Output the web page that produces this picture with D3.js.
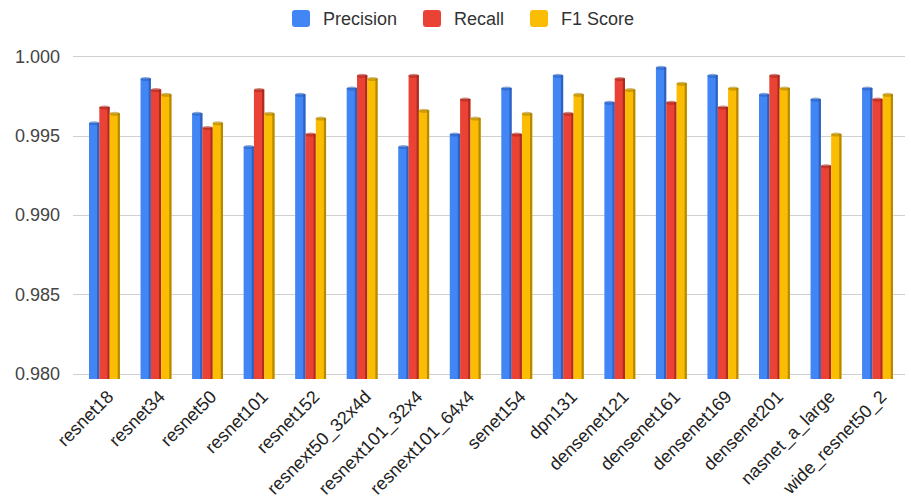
<!DOCTYPE html>
<html><head><meta charset="utf-8">
<script src="https://cdn.jsdelivr.net/npm/d3@7"></script>
<style>html,body{margin:0;padding:0;background:#fff;}svg{display:block;}</style>
</head><body>
<script>
const categories = ["resnet18","resnet34","resnet50","resnet101","resnet152","resnext50_32x4d","resnext101_32x4","resnext101_64x4","senet154","dpn131","densenet121","densenet161","densenet169","densenet201","nasnet_a_large","wide_resnet50_2"];
const seriesNames = ["Precision","Recall","F1 Score"];
const precision = [0.9959,0.9987,0.9965,0.9944,0.9977,0.9981,0.9944,0.9952,0.9981,0.9989,0.9972,0.9994,0.9989,0.9977,0.9974,0.9981];
const recall    = [0.9969,0.9980,0.9956,0.9980,0.9952,0.9989,0.9989,0.9974,0.9952,0.9965,0.9987,0.9972,0.9969,0.9989,0.9932,0.9974];
const f1score   = [0.9965,0.9977,0.9959,0.9965,0.9962,0.9987,0.9967,0.9962,0.9965,0.9977,0.9980,0.9984,0.9981,0.9981,0.9952,0.9977];
const yTicks = [0.980,0.985,0.990,0.995,1.000];
const colors = ["#4285F4","#EA4335","#FBBC04"];
const edgeColors = ["#2a5cb8","#a3271c","#a88000"];

const W = 911, H = 501;
const svg = d3.select("body").append("svg").attr("width",W).attr("height",H);

const y = d3.scaleLinear().domain([0.980,1.000]).range([373.5,56.3]);
const x = d3.scaleBand().domain(categories).range([78.7,903.3]).paddingInner(0.4).paddingOuter(0.2);
const xs = d3.scaleBand().domain(seriesNames).range([0,x.bandwidth()]);
const baseY = y(0.980) + 5.5;
const series = [precision, recall, f1score];

// gridlines
svg.append("g").selectAll("line").data(yTicks).join("line")
  .attr("x1",73).attr("x2",905)
  .attr("y1",d=>Math.round(y(d))+0.5).attr("y2",d=>Math.round(y(d))+0.5)
  .attr("stroke","#d0d0d0").attr("stroke-width",1);

// y labels
svg.append("g").selectAll("text").data(yTicks).join("text")
  .attr("x",60).attr("y",d=>y(d)+6.5)
  .attr("text-anchor","end")
  .attr("font-family","Liberation Sans, Arial, sans-serif")
  .attr("font-size",18).attr("fill","#444")
  .text(d=>d3.format(".3f")(d));

// bars
const g = svg.append("g");
series.forEach((vals, si) => {
  const name = seriesNames[si];
  const bw = xs.bandwidth();
  const grp = g.append("g");
  vals.forEach((v, ci) => {
    const x0 = x(categories[ci]) + xs(name);
    const top = y(v);
    grp.append("rect").attr("x",x0).attr("y",top+1.5).attr("width",bw).attr("height",baseY-top-1.5).attr("fill",colors[si]);
    grp.append("rect").attr("x",x0+bw-2.2).attr("y",top+1.5).attr("width",2.2).attr("height",baseY-top-1.5).attr("fill",edgeColors[si]).attr("opacity",0.85);
    grp.append("ellipse").attr("cx",x0+bw/2).attr("cy",top+2).attr("rx",bw/2).attr("ry",2).attr("fill",edgeColors[si]).attr("opacity",0.55);
  });
});

// x labels
svg.append("g").selectAll("text").data(categories).join("text")
  .attr("transform",d=>`translate(${x(d)+x.bandwidth()/2+10},${baseY+19}) rotate(-45)`)
  .attr("text-anchor","end")
  .attr("font-family","Liberation Sans, Arial, sans-serif")
  .attr("font-size",18).attr("fill","#222")
  .text(d=>d);

// legend
const legendX = [292, 423, 530];
const lg = svg.append("g");
seriesNames.forEach((n,i)=>{
  lg.append("rect").attr("x",legendX[i]).attr("y",10).attr("width",18).attr("height",17).attr("rx",3).attr("fill",colors[i]);
  lg.append("text").attr("x",legendX[i]+31).attr("y",25)
    .attr("font-family","Liberation Sans, Arial, sans-serif")
    .attr("font-size",18).attr("fill","#333").text(n);
});
</script>
</body></html>
